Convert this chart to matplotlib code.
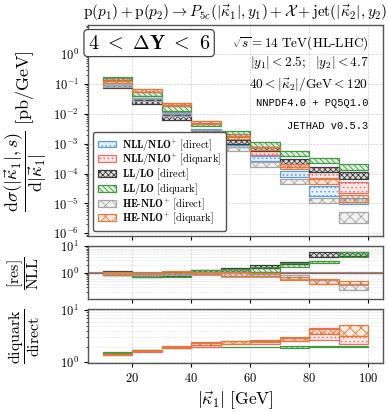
import numpy as np
import matplotlib
matplotlib.use('Agg')
import matplotlib.pyplot as plt
from matplotlib.colors import to_rgba
from matplotlib.ticker import FuncFormatter, LogLocator, NullFormatter

plt.rcParams['mathtext.fontset'] = 'cm'
plt.rcParams['font.family'] = 'DejaVu Serif'
plt.rcParams['hatch.linewidth'] = 0.6

# Bin edges in |kappa_1| [GeV]
bin_edges = [10, 20, 30, 40, 50, 60, 70, 80, 90, 100]

# Main panel: cross section bands (low, high) in pb/GeV
nll_dir_lo = [0.095, 0.031, 0.0100, 0.0026, 0.00075, 0.00027, 0.000075, 0.000018, 0.0000095]
nll_dir_hi = [0.110, 0.040, 0.0119, 0.0032, 0.00090, 0.00040, 0.000125, 0.000039, 0.000015]
nll_diq_lo = [0.135, 0.053, 0.0195, 0.0050, 0.0017, 0.00043, 0.00016, 0.000069, 0.000022]
nll_diq_hi = [0.155, 0.066, 0.0230, 0.0060, 0.0021, 0.00059, 0.00021, 0.00011, 0.000053]
ll_dir_lo = [0.075, 0.022, 0.0064, 0.0021, 0.00098, 0.00059, 0.00021, 0.00011, 0.000066]
ll_dir_hi = [0.092, 0.030, 0.0095, 0.0029, 0.00134, 0.00080, 0.00031, 0.000162, 0.00011]
ll_diq_lo = [0.130, 0.041, 0.0129, 0.0039, 0.0018, 0.00080, 0.00040, 0.00022, 0.000135]
ll_diq_hi = [0.170, 0.054, 0.0180, 0.0046, 0.0026, 0.00112, 0.00059, 0.00032, 0.00021]
he_dir_lo = [0.080, 0.028, 0.0085, 0.0024, 0.00059, 0.00017, 0.000043, 0.0000102, 0.0000022]
he_dir_hi = [0.090, 0.034, 0.0105, 0.0030, 0.00076, 0.00024, 0.000066, 0.000015, 0.0000052]
he_diq_lo = [0.110, 0.054, 0.0180, 0.0046, 0.00145, 0.00060, 0.00014, 0.000045, 0.0000112]
he_diq_hi = [0.132, 0.066, 0.0234, 0.0060, 0.00180, 0.00080, 0.00021, 0.000066, 0.000019]

# Ratio panel 1: [res]/NLL
ll_dir_r1_lo = [0.85, 0.70, 0.75, 0.95, 1.10, 1.46, 2.20, 3.97, 4.20]
ll_dir_r1_hi = [1.15, 0.85, 0.95, 1.30, 1.55, 1.94, 2.50, 6.10, 6.00]
ll_diq_r1_lo = [0.85, 0.67, 0.71, 0.95, 1.05, 1.09, 1.68, 2.40, 3.80]
ll_diq_r1_hi = [1.10, 0.87, 0.95, 1.25, 1.40, 1.68, 2.25, 2.80, 6.10]
he_dir_r1_lo = [0.80, 0.80, 0.85, 0.85, 0.71, 0.68, 0.57, 0.38, 0.22]
he_dir_r1_hi = [0.95, 0.90, 1.00, 1.00, 0.95, 0.90, 0.82, 0.53, 0.35]
he_diq_r1_lo = [0.82, 0.90, 0.95, 0.90, 0.77, 0.75, 0.53, 0.40, 0.37]
he_diq_r1_hi = [1.03, 1.00, 1.16, 1.10, 1.03, 0.95, 0.71, 0.57, 0.50]

# Ratio panel 2: diquark/direct
ll_r2_lo = [1.50, 1.68, 1.86, 1.95, 1.95, 1.95, 1.90, 1.92, 1.97]
ll_r2_hi = [1.58, 1.74, 1.92, 2.00, 2.00, 2.00, 2.02, 2.02, 2.02]
nll_r2_lo = [1.35, 1.60, 1.85, 2.00, 2.20, 2.27, 2.54, 2.69, 2.27]
nll_r2_hi = [1.45, 1.72, 2.00, 2.30, 2.50, 2.60, 2.93, 4.47, 3.23]
he_r2_lo = [1.38, 1.65, 1.90, 2.10, 2.25, 2.40, 2.60, 3.50, 3.23]
he_r2_hi = [1.45, 1.75, 2.05, 2.40, 2.50, 2.70, 3.10, 4.30, 5.15]

c_blue = '#5d9fd6'
c_red = '#e8706a'
c_black = '#3a3a3a'
c_green = '#3f9a3f'
c_gray = '#a5a5a5'
c_orange = '#e07b39'

left = np.array(bin_edges[:-1])
width = np.diff(bin_edges)


def band(ax, lo, hi, color, hatch, label=None, alpha=0.15):
    lo = np.array(lo)
    hi = np.array(hi)
    return ax.bar(left, hi - lo, bottom=lo, width=width, align='edge',
                  facecolor=to_rgba(color, alpha), edgecolor=color,
                  hatch=hatch, linewidth=0.9, label=label)


fig = plt.figure(figsize=(3.88, 4.12), dpi=100)
ax1 = fig.add_axes([0.227, 0.427, 0.760, 0.512])
ax2 = fig.add_axes([0.227, 0.274, 0.760, 0.129])
ax3 = fig.add_axes([0.227, 0.119, 0.760, 0.131])

# Main panel
band(ax1, nll_dir_lo, nll_dir_hi, c_blue, '....', r'$\mathbf{NLL/NLO^{+}}\ \mathrm{[direct]}$')
band(ax1, nll_diq_lo, nll_diq_hi, c_red, '....', r'$\mathbf{NLL/NLO^{+}}\ \mathrm{[diquark]}$')
band(ax1, ll_dir_lo, ll_dir_hi, c_black, 'xxxxxx', r'$\mathbf{LL/LO}\ \mathrm{[direct]}$')
band(ax1, ll_diq_lo, ll_diq_hi, c_green, '\\\\\\\\\\\\', r'$\mathbf{LL/LO}\ \mathrm{[diquark]}$')
band(ax1, he_dir_lo, he_dir_hi, c_gray, 'xxx', r'$\mathbf{HE\text{-}NLO^{+}}\ \mathrm{[direct]}$')
band(ax1, he_diq_lo, he_diq_hi, c_orange, 'xxx', r'$\mathbf{HE\text{-}NLO^{+}}\ \mathrm{[diquark]}$')

# Ratio panel 1
ax2.axhline(1.0, color='#8a8a8a', lw=1.6, zorder=1)
ax2.axhline(1.0, color='#9a5a4a', lw=0.6, zorder=1)
band(ax2, ll_dir_r1_lo, ll_dir_r1_hi, c_black, 'xxxxxx')
band(ax2, ll_diq_r1_lo, ll_diq_r1_hi, c_green, '\\\\\\\\\\\\')
band(ax2, he_dir_r1_lo, he_dir_r1_hi, c_gray, 'xxx')
band(ax2, he_diq_r1_lo, he_diq_r1_hi, c_orange, 'xxx')

# Ratio panel 2
band(ax3, ll_r2_lo, ll_r2_hi, c_green, '\\\\\\\\\\\\')
band(ax3, nll_r2_lo, nll_r2_hi, c_red, '....')
band(ax3, he_r2_lo, he_r2_hi, c_orange, 'xxx')

bold_pow = FuncFormatter(lambda v, p: r'$\mathbf{10^{%d}}$' % round(np.log10(v)))
bold_num = FuncFormatter(lambda v, p: r'$\mathbf{%d}$' % v)

for ax in (ax1, ax2, ax3):
    ax.set_xlim(5, 105)
    ax.set_yscale('log')
    ax.set_xticks([20, 40, 60, 80, 100])
    ax.xaxis.set_major_formatter(bold_num)
    ax.yaxis.set_major_formatter(bold_pow)
    ax.yaxis.set_minor_formatter(NullFormatter())
    ax.tick_params(labelsize=9, direction='out', length=3, width=0.8)
    ax.tick_params(which='minor', length=1.5, width=0.5)
    for s in ax.spines.values():
        s.set_color('#555555')
        s.set_linewidth(1.0)
    ax.grid(True, which='major', ls='--', lw=0.5, color='#d0d0d0', zorder=0)
    ax.set_axisbelow(True)

ax1.set_ylim(8e-7, 9.5)
ax1.yaxis.set_major_locator(LogLocator(base=10, numticks=12))
ax1.yaxis.set_minor_locator(LogLocator(base=10, subs=np.arange(2, 10), numticks=12))
ax1.tick_params(labelbottom=False)
ax2.set_ylim(0.105, 10)
ax2.set_yticks([1, 10])
ax2.tick_params(labelbottom=False)
ax3.set_ylim(0.97, 10.4)
ax3.set_yticks([1, 10])
for ax in (ax2, ax3):
    ax.yaxis.set_minor_locator(LogLocator(base=10, subs=np.arange(2, 10), numticks=12))
    ax.grid(True, which='minor', axis='y', ls='--', lw=0.4, color='#e0e0e0', zorder=0)

ax1.set_title(r'$\mathrm{p}(p_1) + \mathrm{p}(p_2) \to P_{5c}(|\vec{\kappa}_1|, y_1) + \mathcal{X} + \mathrm{jet}(|\vec{\kappa}_2|, y_2)$',
              fontsize=11, pad=6)
ax1.set_ylabel(r'$\dfrac{\mathrm{d}\sigma(|\vec{\kappa}_1|, s)}{\mathrm{d}|\vec{\kappa}_1|}\ [\mathrm{pb/GeV}]$', fontsize=13)
ax2.set_ylabel(r'$\dfrac{\mathrm{[res]}}{\mathrm{NLL}}$', fontsize=11.5)
ax3.set_ylabel(r'$\dfrac{\mathrm{diquark}}{\mathrm{direct}}$', fontsize=11.5)
ax3.set_xlabel(r'$|\vec{\kappa}_1|\ [\mathrm{GeV}]$', fontsize=12.5, labelpad=3)
ax1.yaxis.set_label_coords(-0.132, 0.5)
ax2.yaxis.set_label_coords(-0.16, 0.5)
ax3.yaxis.set_label_coords(-0.155, 0.5)

ax1.text(0.207, 0.915, r'$\mathbf{4\ <\ \Delta Y\ <\ 6}$', transform=ax1.transAxes, fontsize=14.5,
         ha='center', va='center',
         bbox=dict(boxstyle='round,pad=0.2,rounding_size=0.2', facecolor='white', edgecolor='#444444', lw=0.9))
txt = dict(transform=ax1.transAxes, ha='right', va='center', fontsize=9.6)
ax1.text(0.95, 0.915, r'$\sqrt{s} = 14\ \mathrm{TeV(HL\text{-}LHC)}$', **txt)
ax1.text(0.95, 0.825, r'$|y_1| < 2.5;\ \ |y_2| < 4.7$', **txt)
ax1.text(0.95, 0.72, r'$40 < |\vec{\kappa}_2|/\mathrm{GeV} < 120$', **txt)
ax1.text(0.95, 0.63, 'NNPDF4.0 + PQ5Q1.0', family='Liberation Mono', transform=ax1.transAxes,
         ha='right', va='center', fontsize=7.5)
ax1.text(0.95, 0.52, 'JETHAD v0.5.3', family='Liberation Mono', transform=ax1.transAxes,
         ha='right', va='center', fontsize=7.5)

ax1.legend(loc='lower left', fontsize=7.5, frameon=True, fancybox=True, edgecolor='#555555',
           framealpha=1, handlelength=1.7, handleheight=0.6, labelspacing=-0.1,
           borderpad=0.45, handletextpad=0.6, bbox_to_anchor=(0.0, 0.0))

fig.savefig('out.png', dpi=100)
